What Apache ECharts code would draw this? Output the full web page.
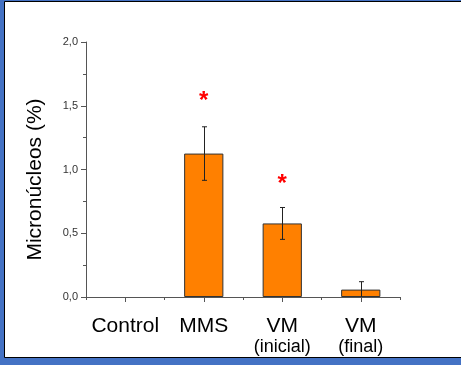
<!DOCTYPE html>
<html>
<head>
<meta charset="utf-8">
<script src="https://cdn.jsdelivr.net/npm/echarts@6/dist/echarts.min.js"></script>
<style>
html,body{margin:0;padding:0;background:#4472C4;}
#chart{width:461px;height:365px;}
</style>
</head>
<body>
<div id="chart"></div>
<script>
var categories = ['Control', 'MMS', 'VM\n(inicial)', 'VM\n(final)'];
var means = [0, 1.125, 0.577, 0.058];
var errors = [0, 0.21, 0.125, 0.062];
var starValues = [null, 1.566, 0.911, null];
var yTicks = ['0,0', '0,5', '1,0', '1,5', '2,0'];

var FONT = "'Liberation Sans', Arial, sans-serif";
var chart = echarts.init(document.getElementById('chart'), null, {renderer: 'canvas'});

var option = {
  backgroundColor: 'transparent',
  animation: false,
  graphic: [
    {type: 'rect', z: -10, shape: {x: 0, y: 0, width: 461, height: 365}, style: {fill: '#4472C4'}},
    {type: 'rect', z: -9, shape: {x: 4.5, y: 1.5, width: 470, height: 356}, style: {fill: '#ffffff', stroke: '#000000', lineWidth: 1}}
  ],
  grid: {left: 86, right: 61, top: 42, bottom: 68, containLabel: false},
  xAxis: [{
    type: 'category',
    data: categories,
    axisLine: {show: true, lineStyle: {color: '#555555', width: 1}},
    axisTick: {show: true, alignWithLabel: true, length: 5, lineStyle: {color: '#555555'}},
    axisLabel: {
      margin: 17,
      color: '#000000',
      fontFamily: FONT,
      formatter: function (v) {
        var parts = v.split('\n');
        if (parts.length === 1) return '{a|' + parts[0] + '}';
        return '{a|' + parts[0] + '}\n{b|' + parts[1] + '}';
      },
      rich: {
        a: {fontSize: 21, lineHeight: 24, fontFamily: FONT, color: '#000000'},
        b: {fontSize: 18, lineHeight: 18, fontFamily: FONT, color: '#000000'}
      }
    },
    splitLine: {show: false}
  }, {
    type: 'category',
    data: categories,
    position: 'bottom',
    axisLine: {show: false},
    axisTick: {show: true, alignWithLabel: false, length: 3, lineStyle: {color: '#555555'}},
    axisLabel: {show: false},
    splitLine: {show: false}
  }],
  yAxis: {
    type: 'value',
    min: 0,
    max: 2,
    interval: 0.5,
    name: 'Micronúcleos (%)',
    nameLocation: 'middle',
    nameGap: 40,
    nameTextStyle: {fontSize: 21, fontFamily: FONT, color: '#000000', padding: [0, 20, 0, 0]},
    axisLine: {show: true, lineStyle: {color: '#555555', width: 1}},
    axisTick: {show: true, length: 5, lineStyle: {color: '#555555'}},
    minorTick: {show: true, splitNumber: 2, length: 3, lineStyle: {color: '#555555'}},
    axisLabel: {
      margin: 8,
      fontSize: 11,
      fontFamily: FONT,
      color: '#333333',
      formatter: function (v) { return yTicks[Math.round(v / 0.5)]; }
    },
    splitLine: {show: false}
  },
  series: [{
    type: 'bar',
    data: means.map(function (m) {
      return m === 0 ? {value: m, itemStyle: {borderWidth: 0, opacity: 0}} : m;
    }),
    barWidth: '50%',
    itemStyle: {color: '#FF8000', borderColor: '#333333', borderWidth: 1},
    z: 2
  }, {
    type: 'custom',
    z: 5,
    data: means.map(function (m, i) { return [i, m - errors[i], m + errors[i]]; }),
    renderItem: function (params, api) {
      var idx = api.value(0);
      if (errors[idx] === 0) return null;
      var lo = api.coord([idx, Math.max(api.value(1), 0)]);
      var hi = api.coord([idx, api.value(2)]);
      var x = Math.round(lo[0]) + 0.5;
      var cap = 2.5;
      var st = {stroke: '#222222', lineWidth: 1};
      var children = [
        {type: 'line', shape: {x1: x, y1: lo[1], x2: x, y2: hi[1]}, style: st},
        {type: 'line', shape: {x1: x - cap, y1: hi[1], x2: x + cap, y2: hi[1]}, style: st}
      ];
      if (api.value(1) > 0) {
        children.push({type: 'line', shape: {x1: x - cap, y1: lo[1], x2: x + cap, y2: lo[1]}, style: st});
      }
      return {type: 'group', children: children};
    },
    encode: {x: 0, y: [1, 2]}
  }, {
    type: 'custom',
    z: 6,
    data: starValues.map(function (s, i) { return [i, s === null ? '-' : s]; }),
    renderItem: function (params, api) {
      var v = api.value(1);
      if (v === '-' || isNaN(v)) return null;
      var p = api.coord([api.value(0), v]);
      return {
        type: 'text',
        x: p[0],
        y: p[1] + 4,
        style: {text: '*', fill: '#FF0000', fontSize: 24, fontWeight: 'bold', fontFamily: FONT, align: 'center', verticalAlign: 'middle'}
      };
    },
    encode: {x: 0, y: 1}
  }]
};
chart.setOption(option);
</script>
</body>
</html>
